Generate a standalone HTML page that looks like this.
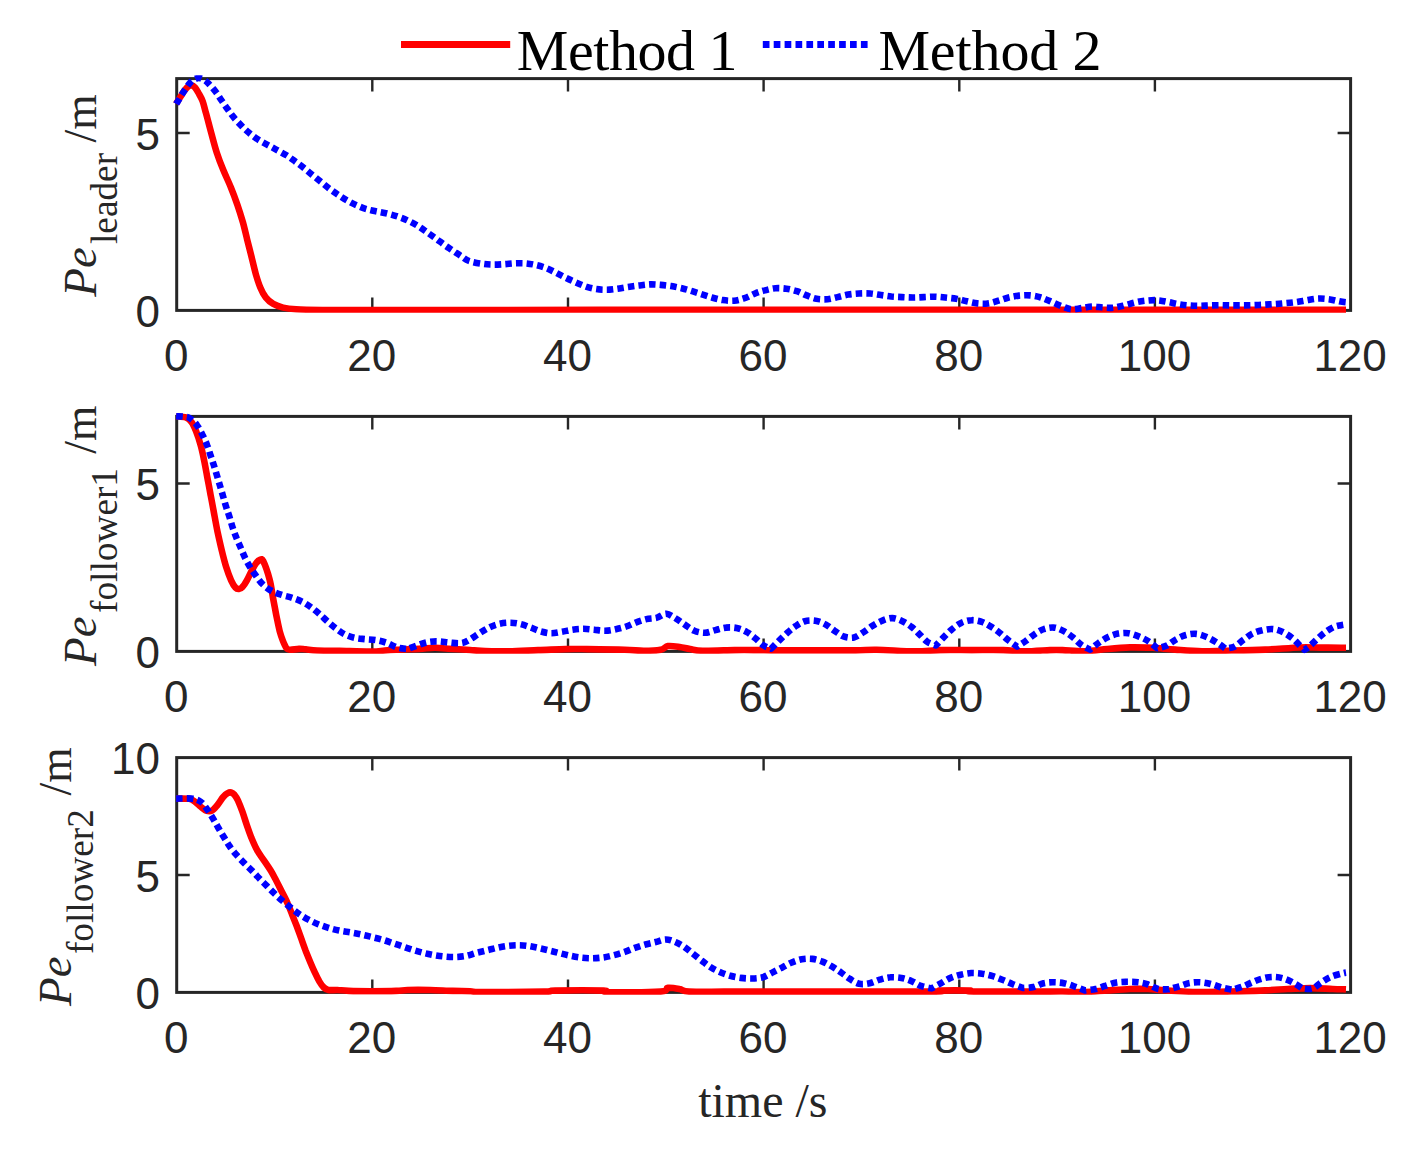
<!DOCTYPE html>
<html><head><meta charset="utf-8"><title>Position error comparison</title>
<style>
html,body{margin:0;padding:0;background:#fff;}
svg{display:block;}
.sans{font-family:"Liberation Sans",sans-serif;font-size:44px;fill:#262626;}
.serif{font-family:"Liberation Serif",serif;fill:#262626;}
</style></head>
<body>
<svg width="1421" height="1149" viewBox="0 0 1421 1149">
<rect width="1421" height="1149" fill="#fff"/>
<defs>
<clipPath id="c0"><rect x="172.7" y="75.2" width="1181.9" height="237.6"/></clipPath>
<clipPath id="c1"><rect x="172.7" y="413.0" width="1181.9" height="240.8"/></clipPath>
<clipPath id="c2"><rect x="172.7" y="754.2" width="1181.9" height="240.6"/></clipPath>
</defs>
<!-- subplot 1 -->
<g>
<rect x="176.7" y="78.6" width="1173.9" height="231.8" fill="none" stroke="#262626" stroke-width="3.0"/>
<path d="M372.3 310.4 v-13.0 M372.3 78.6 v13.0 M568.0 310.4 v-13.0 M568.0 78.6 v13.0 M763.6 310.4 v-13.0 M763.6 78.6 v13.0 M959.3 310.4 v-13.0 M959.3 78.6 v13.0 M1154.9 310.4 v-13.0 M1154.9 78.6 v13.0 M176.7 133.0 h13.0 M1350.6 133.0 h-13.0" stroke="#262626" stroke-width="2.4" fill="none"/>
<text class="sans" x="176.2" y="371.4" text-anchor="middle">0</text>
<text class="sans" x="371.8" y="371.4" text-anchor="middle">20</text>
<text class="sans" x="567.5" y="371.4" text-anchor="middle">40</text>
<text class="sans" x="763.1" y="371.4" text-anchor="middle">60</text>
<text class="sans" x="958.8" y="371.4" text-anchor="middle">80</text>
<text class="sans" x="1154.4" y="371.4" text-anchor="middle">100</text>
<text class="sans" x="1350.1" y="371.4" text-anchor="middle">120</text>
<text class="sans" x="160" y="327.2" text-anchor="end">0</text>
<text class="sans" x="160" y="149.8" text-anchor="end">5</text>
<g clip-path="url(#c0)" fill="none" stroke-linejoin="round">
<path d="M176.1 103.9C176.8 102.7 179.1 99.0 180.5 96.8C181.9 94.6 183.2 92.3 184.5 90.6C185.8 88.9 186.8 87.5 188.0 86.6C189.2 85.7 190.3 85.0 191.5 85.2C192.7 85.4 193.8 86.2 195.0 87.5C196.2 88.8 197.2 90.7 198.5 93.0C199.8 95.3 201.4 97.8 202.6 101.1C203.8 104.4 204.4 107.6 205.9 112.9C207.4 118.2 209.5 126.5 211.3 133.1C213.1 139.7 214.8 146.5 216.8 152.7C218.8 158.8 220.9 164.3 223.3 170.1C225.7 175.9 228.6 181.7 230.9 187.5C233.3 193.3 235.4 199.1 237.4 204.9C239.4 210.7 241.2 216.5 242.9 222.3C244.5 228.1 245.8 233.9 247.2 239.7C248.7 245.5 250.1 251.3 251.6 257.1C253.0 262.9 254.5 269.4 255.9 274.5C257.4 279.6 258.7 283.7 260.3 287.5C261.9 291.4 263.5 294.6 265.7 297.3C267.9 300.1 270.4 302.2 273.3 303.9C276.2 305.6 279.3 306.7 283.1 307.6C286.9 308.5 289.7 308.9 296.2 309.3C302.7 309.7 307.1 309.8 322.3 310.0C337.5 310.1 362.9 310.0 387.5 310.0C412.2 310.0 434.6 310.0 470.0 310.0C505.4 309.9 545.0 309.8 600.0 309.8C655.0 309.8 733.3 309.9 800.0 309.9C866.7 309.9 933.3 309.8 1000.0 309.8C1066.7 309.8 1142.3 309.8 1200.0 309.8C1257.7 309.8 1321.7 309.8 1346.0 309.8" stroke="#ff0000" stroke-width="6.6"/>
<path d="M176.1 103.9C176.4 103.4 176.8 103.1 178.0 101.1C179.2 99.1 181.5 95.0 183.5 92.0C185.5 89.0 188.0 85.2 189.8 83.1C191.6 81.0 192.9 80.1 194.5 79.3C196.1 78.5 197.6 77.9 199.2 78.0C200.8 78.1 202.4 78.9 204.0 79.8C205.6 80.7 206.6 81.5 208.5 83.5C210.4 85.5 213.3 88.7 215.5 91.5C217.7 94.3 219.6 97.6 221.6 100.5C223.6 103.4 225.6 106.3 227.7 109.2C229.7 112.1 231.8 115.0 234.2 117.9C236.5 120.7 239.3 123.6 241.8 126.1C244.3 128.7 246.7 130.8 249.4 133.1C252.1 135.3 255.0 137.6 258.1 139.6C261.2 141.6 264.8 143.4 267.9 145.1C271.0 146.8 273.5 148.1 276.6 149.8C279.7 151.5 283.3 153.4 286.4 155.3C289.5 157.2 292.2 159.3 295.1 161.4C298.0 163.5 300.9 165.6 303.8 167.9C306.7 170.2 309.6 172.7 312.5 175.1C315.4 177.4 318.3 179.7 321.2 182.0C324.1 184.4 327.0 186.8 329.9 189.0C332.8 191.2 335.7 193.2 338.6 195.1C341.5 197.0 344.2 198.8 347.3 200.5C350.4 202.3 353.8 204.1 357.1 205.5C360.4 207.0 363.6 208.3 366.9 209.2C370.1 210.2 373.2 210.7 376.7 211.4C380.1 212.1 383.9 212.7 387.5 213.6C391.2 214.5 395.0 215.6 398.4 216.8C401.9 218.0 405.0 219.2 408.2 220.8C411.5 222.3 414.9 224.1 418.0 226.0C421.1 227.9 423.8 230.0 426.7 232.1C429.6 234.1 432.5 236.1 435.4 238.2C438.3 240.3 441.2 242.6 444.1 244.7C447.0 246.8 449.9 248.6 452.8 250.6C455.7 252.5 458.8 254.7 461.5 256.4C464.2 258.2 465.7 259.8 469.1 261.0C472.6 262.2 478.2 263.2 482.2 263.8C486.1 264.4 489.1 264.5 492.7 264.6C496.3 264.7 500.1 264.4 503.7 264.2C507.3 264.0 510.8 263.5 514.5 263.3C518.1 263.2 521.9 263.1 525.4 263.3C529.0 263.6 532.5 264.2 536.0 265.0C539.5 265.8 543.2 266.9 546.6 268.2C549.9 269.5 552.9 271.3 556.1 272.8C559.2 274.4 562.3 276.1 565.6 277.7C568.8 279.3 572.3 280.9 575.7 282.3C579.1 283.8 582.6 285.4 586.0 286.6C589.5 287.7 592.7 288.6 596.2 289.1C599.6 289.6 603.2 289.8 606.7 289.7C610.2 289.7 613.8 289.1 617.3 288.7C620.8 288.2 624.2 287.5 627.8 287.0C631.5 286.5 635.3 285.9 639.0 285.5C642.7 285.1 646.4 284.6 650.0 284.4C653.6 284.3 657.0 284.6 660.6 284.9C664.1 285.2 667.6 285.6 671.1 286.1C674.6 286.7 678.2 287.4 681.7 288.2C685.2 289.1 688.7 290.1 692.2 291.2C695.7 292.3 699.4 293.5 702.8 294.6C706.2 295.7 709.4 296.8 712.7 297.7C716.1 298.7 719.3 299.6 722.8 300.1C726.4 300.6 730.4 301.0 734.0 300.7C737.7 300.4 741.1 299.4 744.6 298.2C748.1 297.0 751.8 294.8 755.1 293.5C758.5 292.2 761.4 291.2 764.8 290.4C768.1 289.5 771.7 288.5 775.3 288.2C778.9 288.0 782.7 288.2 786.3 288.7C789.9 289.2 793.5 290.1 796.9 291.2C800.2 292.3 803.3 294.2 806.6 295.4C809.9 296.7 813.0 298.2 816.5 298.8C820.0 299.4 824.0 299.5 827.5 299.2C831.0 298.9 834.2 297.9 837.6 297.1C841.1 296.3 844.6 295.2 848.2 294.6C851.8 294.0 855.5 293.7 859.1 293.5C862.8 293.3 866.7 293.3 870.3 293.5C874.0 293.8 877.4 294.5 880.9 295.0C884.4 295.5 887.9 296.1 891.4 296.5C895.0 296.8 898.4 296.9 902.0 297.1C905.6 297.3 909.4 297.5 913.0 297.5C916.6 297.5 920.1 297.3 923.8 297.1C927.4 297.0 931.1 296.6 934.7 296.7C938.3 296.8 941.7 297.2 945.3 297.5C948.9 297.9 952.7 298.2 956.3 298.8C959.9 299.4 963.3 300.6 966.8 301.3C970.3 302.1 973.8 303.1 977.4 303.4C980.9 303.8 984.6 303.9 988.1 303.4C991.7 303.0 995.1 301.7 998.5 300.7C1001.9 299.7 1005.2 298.4 1008.6 297.5C1012.1 296.7 1015.6 296.0 1019.2 295.6C1022.8 295.3 1026.5 295.1 1030.2 295.4C1033.8 295.7 1037.7 296.6 1040.9 297.5C1044.1 298.5 1046.1 299.5 1049.4 300.9C1052.7 302.3 1057.1 304.5 1060.7 305.8C1064.3 307.2 1067.6 308.8 1071.1 309.2C1074.6 309.6 1078.1 308.5 1081.7 308.1C1085.2 307.6 1088.6 306.6 1092.2 306.5C1095.9 306.4 1099.9 307.5 1103.5 307.6C1107.1 307.8 1110.4 308.0 1113.9 307.6C1117.4 307.3 1120.9 306.3 1124.4 305.4C1128.0 304.5 1131.5 303.3 1135.0 302.5C1138.6 301.7 1142.2 301.0 1145.8 300.7C1149.4 300.3 1153.1 300.0 1156.7 300.2C1160.2 300.4 1163.7 301.1 1167.2 301.8C1170.8 302.4 1174.3 303.4 1177.8 304.0C1181.3 304.6 1184.6 305.1 1188.2 305.4C1191.7 305.7 1195.6 305.8 1199.2 305.8C1202.9 305.8 1206.4 305.5 1210.0 305.4C1213.6 305.3 1217.3 305.2 1220.8 305.2C1224.4 305.2 1227.9 305.4 1231.4 305.4C1234.9 305.4 1238.4 305.4 1242.0 305.4C1245.6 305.4 1249.1 305.3 1252.8 305.2C1256.5 305.1 1260.4 304.9 1264.1 304.7C1267.7 304.5 1271.1 304.3 1274.7 304.0C1278.2 303.8 1281.9 303.5 1285.5 303.1C1289.1 302.8 1292.7 302.5 1296.3 302.0C1299.8 301.5 1303.3 300.8 1306.9 300.2C1310.4 299.6 1313.9 298.8 1317.4 298.6C1321.0 298.4 1324.6 298.6 1328.2 299.1C1331.9 299.5 1336.1 300.8 1339.1 301.3C1342.0 301.9 1344.8 302.2 1346.0 302.3" stroke="#0000ff" stroke-width="6.6" stroke-dasharray="6.5 4.15"/>
</g>
<g transform="rotate(-90)" class="serif">
<text x="-296.8" y="95.7" font-size="47" font-style="italic">Pe</text>
<text x="-244.0" y="117.3" font-size="37.3">leader</text>
<text x="-142.5" y="95.7" font-size="45.5">/m</text>
</g>
</g>
<!-- subplot 2 -->
<g>
<rect x="176.7" y="416.4" width="1173.9" height="235.0" fill="none" stroke="#262626" stroke-width="3.0"/>
<path d="M372.3 651.4 v-13.0 M372.3 416.4 v13.0 M568.0 651.4 v-13.0 M568.0 416.4 v13.0 M763.6 651.4 v-13.0 M763.6 416.4 v13.0 M959.3 651.4 v-13.0 M959.3 416.4 v13.0 M1154.9 651.4 v-13.0 M1154.9 416.4 v13.0 M176.7 483.5 h13.0 M1350.6 483.5 h-13.0" stroke="#262626" stroke-width="2.4" fill="none"/>
<text class="sans" x="176.2" y="712.4" text-anchor="middle">0</text>
<text class="sans" x="371.8" y="712.4" text-anchor="middle">20</text>
<text class="sans" x="567.5" y="712.4" text-anchor="middle">40</text>
<text class="sans" x="763.1" y="712.4" text-anchor="middle">60</text>
<text class="sans" x="958.8" y="712.4" text-anchor="middle">80</text>
<text class="sans" x="1154.4" y="712.4" text-anchor="middle">100</text>
<text class="sans" x="1350.1" y="712.4" text-anchor="middle">120</text>
<text class="sans" x="160" y="668.2" text-anchor="end">0</text>
<text class="sans" x="160" y="500.3" text-anchor="end">5</text>
<g clip-path="url(#c1)" fill="none" stroke-linejoin="round">
<path d="M176.1 416.3C177.7 416.5 183.3 416.5 185.8 417.4C188.4 418.4 189.8 419.7 191.5 422.0C193.2 424.2 194.5 427.2 196.0 431.0C197.5 434.8 199.2 439.9 200.5 444.6C201.9 449.3 202.8 453.8 203.9 459.3C205.1 464.8 206.2 471.4 207.3 477.4C208.5 483.4 209.6 489.5 210.7 495.5C211.9 501.5 213.0 507.6 214.1 513.6C215.2 519.6 216.3 525.7 217.5 531.7C218.8 537.7 220.2 544.0 221.6 549.8C223.0 555.6 224.5 561.7 226.1 566.8C227.7 571.9 229.5 576.8 231.1 580.3C232.7 583.8 234.3 586.4 235.6 587.8C236.9 589.2 237.9 589.0 239.0 588.9C240.1 588.8 241.1 588.6 242.4 587.1C243.7 585.7 245.4 583.0 246.9 580.3C248.4 577.7 249.9 574.1 251.4 571.3C253.0 568.5 254.6 565.3 256.0 563.4C257.4 561.5 258.6 560.4 259.8 560.0C261.0 559.6 261.6 557.9 263.2 561.1C264.8 564.3 267.9 573.2 269.5 579.2C271.2 585.2 271.8 591.3 272.9 597.3C274.1 603.3 275.2 609.8 276.3 615.4C277.5 621.1 278.6 626.9 279.7 631.2C280.9 635.6 282.0 638.6 283.1 641.4C284.3 644.3 285.4 646.8 286.5 648.2C287.6 649.6 287.8 649.7 289.9 649.8C292.0 649.9 296.3 649.0 299.0 648.9C301.6 648.8 302.7 649.1 305.7 649.3C308.8 649.6 311.4 650.2 317.1 650.5C322.7 650.7 330.6 650.7 339.7 650.9C348.7 651.1 363.8 651.7 371.4 651.6C378.9 651.5 380.8 650.8 384.9 650.5C389.1 650.2 390.6 650.1 396.2 649.8C401.9 649.5 412.5 649.2 418.9 648.9C425.3 648.6 429.8 647.8 434.7 647.8C439.6 647.7 442.4 648.3 448.3 648.7C454.2 649.0 464.5 649.7 470.0 650.0C475.5 650.4 474.7 650.5 481.1 650.8C487.5 651.0 499.1 651.5 508.6 651.4C518.1 651.3 528.6 650.5 538.1 650.1C547.6 649.8 557.5 649.3 565.6 649.1C573.7 648.9 576.8 649.0 586.7 649.1C596.5 649.2 615.2 649.4 624.7 649.7C634.2 650.0 637.7 650.8 643.7 650.8C649.7 650.8 656.5 650.5 660.6 649.7C664.6 649.0 664.8 646.6 668.0 646.1C671.1 645.7 675.9 646.5 679.6 647.0C683.3 647.5 686.2 648.5 690.1 649.1C694.0 649.7 695.4 650.6 702.8 650.8C710.2 651.0 724.9 650.3 734.5 650.1C744.0 650.0 753.9 650.1 760.0 650.1C766.1 650.2 762.2 650.3 771.1 650.4C780.0 650.4 799.3 650.4 813.3 650.4C827.4 650.4 845.0 650.5 855.6 650.4C866.1 650.3 866.8 649.5 876.7 649.7C886.5 649.9 904.1 651.3 914.7 651.4C925.2 651.5 930.5 650.4 940.0 650.1C949.5 649.9 961.1 650.1 971.7 650.1C982.2 650.1 994.5 649.9 1003.3 650.1C1012.1 650.4 1016.7 651.4 1024.5 651.4C1032.2 651.4 1043.7 650.4 1050.0 650.1C1056.3 649.9 1056.7 649.9 1062.5 650.1C1068.4 650.3 1077.5 651.4 1085.0 651.2C1092.5 651.0 1100.1 649.6 1107.6 649.0C1115.1 648.3 1122.6 647.6 1130.1 647.4C1137.6 647.2 1145.1 647.5 1152.6 647.8C1160.1 648.2 1166.9 649.1 1175.1 649.6C1183.4 650.2 1192.8 651.1 1202.1 651.2C1211.5 651.4 1220.9 650.8 1231.4 650.5C1241.9 650.3 1253.8 650.1 1265.2 649.6C1276.6 649.1 1290.9 647.8 1300.0 647.5C1309.1 647.2 1313.2 647.6 1320.0 647.6C1326.8 647.6 1336.7 647.7 1341.0 647.7C1345.3 647.7 1345.2 647.7 1346.0 647.7" stroke="#ff0000" stroke-width="6.6"/>
<path d="M176.1 416.3C177.5 416.4 182.3 416.4 184.7 416.8C187.1 417.1 188.3 417.1 190.4 418.6C192.4 420.0 195.1 422.5 197.1 425.4C199.2 428.2 201.1 432.1 202.8 435.5C204.5 438.9 206.0 442.3 207.3 445.7C208.7 449.1 209.6 452.5 210.7 455.9C211.9 459.3 212.5 461.0 214.1 466.1C215.7 471.2 218.2 479.7 220.2 486.4C222.2 493.2 224.6 501.7 226.1 506.8C227.7 511.9 228.4 513.4 229.5 517.0C230.6 520.6 231.7 524.7 232.9 528.3C234.1 531.9 235.4 535.2 236.7 538.5C238.1 541.8 239.4 544.7 240.8 548.0C242.2 551.3 243.8 555.2 245.3 558.4C246.9 561.6 248.5 564.5 250.3 567.4C252.1 570.3 253.9 573.0 256.0 575.8C258.0 578.6 260.1 581.9 262.8 584.4C265.4 586.9 268.6 589.2 271.8 591.0C275.0 592.7 278.6 593.9 282.0 595.0C285.4 596.2 288.8 596.6 292.2 597.8C295.6 598.9 299.1 600.2 302.4 601.8C305.6 603.5 308.5 605.4 311.4 607.5C314.3 609.6 316.9 611.8 319.8 614.3C322.6 616.7 325.5 619.7 328.4 622.2C331.2 624.6 333.9 626.9 336.7 629.0C339.6 631.1 342.2 633.1 345.3 634.6C348.5 636.1 352.1 637.3 355.5 638.0C358.9 638.8 362.1 638.8 365.7 639.2C369.3 639.5 373.4 639.7 377.0 640.3C380.6 640.9 383.8 641.8 387.2 643.0C390.6 644.2 394.0 646.6 397.4 647.5C400.8 648.5 405.0 648.6 407.6 648.9C410.1 648.0 414.3 646.4 417.7 645.3C421.1 644.1 424.5 642.7 427.9 642.1C431.3 641.5 434.5 641.3 438.1 641.4C441.7 641.5 445.6 642.3 449.4 642.6C453.2 642.9 457.5 643.6 460.7 643.2C463.9 642.9 465.5 642.0 468.6 640.3C471.8 638.6 476.0 635.4 479.4 633.3C482.8 631.1 485.7 629.1 488.9 627.6C492.1 626.0 495.2 624.8 498.6 624.0C502.1 623.2 506.0 622.7 509.6 622.7C513.2 622.7 516.7 623.2 520.2 624.0C523.7 624.8 527.3 626.3 530.7 627.6C534.1 628.8 537.2 630.4 540.6 631.4C544.1 632.3 547.7 633.2 551.2 633.3C554.7 633.3 558.2 632.4 561.8 631.8C565.3 631.2 568.9 630.2 572.5 629.7C576.2 629.2 579.9 628.8 583.5 628.8C587.1 628.8 590.5 629.4 594.1 629.7C597.6 630.0 601.4 630.8 605.0 630.7C608.7 630.7 612.3 630.0 615.8 629.2C619.3 628.5 622.7 627.7 626.2 626.5C629.6 625.3 632.9 623.5 636.3 622.3C639.7 621.0 643.0 619.9 646.4 619.1C649.9 618.3 653.7 618.5 657.0 617.6C660.3 616.8 663.1 613.7 666.3 613.8C669.4 614.0 672.6 616.6 675.8 618.5C678.9 620.3 682.2 623.0 685.3 625.0C688.4 627.1 691.1 629.4 694.3 630.7C697.6 632.0 701.4 632.9 704.9 632.8C708.4 632.7 711.9 631.0 715.5 630.1C719.0 629.2 722.5 627.9 726.0 627.6C729.5 627.2 733.2 627.3 736.6 628.0C740.0 628.7 743.3 630.0 746.5 631.8C749.7 633.5 752.7 636.2 755.6 638.5C758.4 640.8 761.1 643.8 763.7 645.5C766.3 647.2 769.3 647.9 771.1 648.7C773.1 646.7 776.4 643.3 779.1 640.6C781.8 638.0 784.6 635.3 787.4 632.8C790.1 630.4 792.9 628.0 795.8 626.1C798.7 624.1 801.6 622.1 804.9 621.2C808.2 620.3 812.0 620.3 815.4 620.8C818.9 621.3 822.2 622.7 825.4 624.4C828.5 626.0 831.4 628.7 834.4 630.7C837.5 632.7 840.3 635.3 843.5 636.4C846.8 637.6 850.6 638.2 853.9 637.5C857.2 636.8 860.3 634.1 863.4 632.2C866.5 630.3 869.3 627.8 872.4 625.9C875.6 623.9 879.0 621.9 882.4 620.6C885.7 619.3 889.2 618.0 892.5 618.1C895.8 618.2 899.3 619.7 902.4 621.2C905.6 622.7 908.7 624.7 911.5 626.9C914.4 629.1 916.9 631.8 919.5 634.3C922.2 636.8 924.6 640.0 927.3 641.9C930.0 643.8 933.7 644.6 935.8 645.5C937.8 643.4 941.1 639.8 943.8 637.1C946.6 634.3 949.4 631.4 952.3 629.0C955.1 626.7 957.9 624.4 961.1 622.9C964.4 621.4 968.2 620.3 971.7 620.2C975.1 620.0 978.5 620.7 981.8 621.9C985.1 623.0 988.2 625.0 991.3 626.9C994.4 628.8 997.4 631.0 1000.2 633.3C1003.0 635.5 1005.4 638.0 1008.2 640.2C1011.0 642.4 1014.8 645.0 1017.1 646.6C1019.3 645.1 1022.9 643.0 1025.9 640.9C1028.9 638.7 1032.0 635.9 1035.0 633.9C1038.0 631.9 1040.9 630.1 1044.1 629.0C1047.3 628.0 1050.8 627.2 1054.2 627.6C1057.6 627.9 1061.1 629.7 1064.3 631.4C1067.5 633.1 1070.4 635.4 1073.3 637.7C1076.2 640.0 1078.9 643.1 1081.7 645.1C1084.4 647.1 1087.9 648.5 1090.0 649.6C1092.2 647.9 1096.0 644.7 1099.0 642.6C1102.0 640.5 1105.0 638.5 1108.2 637.0C1111.4 635.5 1114.8 634.3 1118.1 633.6C1121.5 633.0 1125.0 632.7 1128.5 633.2C1132.0 633.7 1135.7 635.2 1139.1 636.6C1142.5 638.0 1145.8 639.6 1148.8 641.5C1151.8 643.5 1155.0 646.6 1157.1 648.3C1159.5 647.6 1163.6 647.1 1166.8 645.6C1170.0 644.1 1173.1 641.0 1176.2 639.3C1179.4 637.5 1182.5 635.9 1185.9 635.0C1189.3 634.1 1193.1 633.5 1196.5 633.9C1200.0 634.2 1203.3 635.6 1206.6 637.0C1209.9 638.4 1213.2 640.3 1216.3 642.2C1219.4 644.1 1223.1 646.9 1225.3 648.5C1227.6 648.1 1231.3 648.1 1234.3 646.7C1237.3 645.3 1240.3 642.1 1243.3 639.9C1246.4 637.8 1249.2 635.3 1252.4 633.6C1255.5 632.0 1258.8 631.0 1262.3 630.3C1265.7 629.5 1269.7 628.8 1273.1 629.1C1276.5 629.4 1279.6 630.6 1282.8 632.1C1286.0 633.6 1289.5 636.0 1292.4 638.3C1295.3 640.5 1298.0 643.7 1300.0 645.6C1302.0 647.5 1303.4 648.8 1304.5 649.8C1305.7 649.0 1307.2 648.2 1309.3 646.5C1311.4 644.8 1314.3 641.8 1316.9 639.4C1319.5 637.0 1322.2 634.5 1325.0 632.4C1327.8 630.3 1331.3 628.1 1334.0 626.9C1336.7 625.7 1339.0 625.6 1341.0 625.2C1343.0 624.8 1345.2 624.5 1346.0 624.4" stroke="#0000ff" stroke-width="6.6" stroke-dasharray="6.5 4.15"/>
</g>
<g transform="rotate(-90)" class="serif">
<text x="-666.0" y="95.7" font-size="47" font-style="italic">Pe</text>
<text x="-613.0" y="117.3" font-size="37.3">follower1</text>
<text x="-453.7" y="95.7" font-size="45.5">/m</text>
</g>
</g>
<!-- subplot 3 -->
<g>
<rect x="176.7" y="757.6" width="1173.9" height="234.8" fill="none" stroke="#262626" stroke-width="3.0"/>
<path d="M372.3 992.4 v-13.0 M372.3 757.6 v13.0 M568.0 992.4 v-13.0 M568.0 757.6 v13.0 M763.6 992.4 v-13.0 M763.6 757.6 v13.0 M959.3 992.4 v-13.0 M959.3 757.6 v13.0 M1154.9 992.4 v-13.0 M1154.9 757.6 v13.0 M176.7 875.0 h13.0 M1350.6 875.0 h-13.0" stroke="#262626" stroke-width="2.4" fill="none"/>
<text class="sans" x="176.2" y="1053.4" text-anchor="middle">0</text>
<text class="sans" x="371.8" y="1053.4" text-anchor="middle">20</text>
<text class="sans" x="567.5" y="1053.4" text-anchor="middle">40</text>
<text class="sans" x="763.1" y="1053.4" text-anchor="middle">60</text>
<text class="sans" x="958.8" y="1053.4" text-anchor="middle">80</text>
<text class="sans" x="1154.4" y="1053.4" text-anchor="middle">100</text>
<text class="sans" x="1350.1" y="1053.4" text-anchor="middle">120</text>
<text class="sans" x="160" y="1009.2" text-anchor="end">0</text>
<text class="sans" x="160" y="891.8" text-anchor="end">5</text>
<text class="sans" x="160" y="774.4" text-anchor="end">10</text>
<g clip-path="url(#c2)" fill="none" stroke-linejoin="round">
<path d="M176.1 798.6C178.3 798.7 186.1 798.4 189.2 798.8C192.4 799.3 193.0 800.3 194.9 801.6C196.8 802.8 198.7 805.0 200.5 806.5C202.4 808.0 204.3 809.9 206.2 810.6C208.1 811.3 210.0 811.6 211.9 810.6C213.7 809.7 215.6 807.2 217.5 805.0C219.4 802.7 221.5 799.0 223.2 797.0C224.9 795.1 226.4 793.9 227.7 793.2C229.0 792.4 230.0 792.2 231.1 792.5C232.2 792.8 233.3 793.5 234.5 794.8C235.6 796.1 236.6 797.6 237.9 800.4C239.2 803.3 240.9 807.6 242.4 811.7C243.9 815.9 245.4 821.0 246.9 825.3C248.4 829.7 249.8 833.6 251.4 837.8C253.1 841.9 255.0 846.4 257.1 850.2C259.2 854.0 261.6 857.0 263.9 860.4C266.2 863.8 268.6 867.2 270.7 870.6C272.8 874.0 274.4 877.2 276.3 880.7C278.2 884.3 280.1 888.3 282.0 892.1C283.9 895.8 286.0 899.6 287.6 903.4C289.3 907.1 290.7 910.9 292.2 914.7C293.7 918.5 295.2 922.0 296.7 926.0C298.2 930.0 299.7 934.3 301.2 938.4C302.7 942.6 304.2 946.9 305.7 950.9C307.3 954.8 308.8 958.6 310.3 962.2C311.8 965.8 313.3 969.2 314.8 972.4C316.3 975.6 317.8 978.9 319.3 981.4C320.8 984.0 322.3 986.1 323.8 987.5C325.4 989.0 326.1 989.6 328.4 990.0C330.6 990.4 334.0 989.9 337.4 990.0C340.8 990.2 343.1 990.7 348.7 990.9C354.4 991.1 363.4 991.2 371.4 991.2C379.3 991.2 390.2 991.1 396.2 990.9C402.3 990.7 401.9 990.2 407.6 990.0C413.2 989.9 422.6 989.9 430.2 990.0C437.7 990.2 446.2 990.7 452.8 990.9C459.4 991.1 465.3 991.0 470.0 991.2C474.7 991.3 468.7 992.0 481.1 992.0C493.5 992.1 532.1 991.9 544.4 991.6C556.8 991.4 545.2 990.7 555.0 990.6C564.9 990.4 594.8 990.3 603.6 990.6C612.4 990.8 598.3 991.9 607.8 992.0C617.3 992.2 650.5 992.3 660.6 991.6C670.6 990.9 664.8 988.2 668.0 987.8C671.1 987.4 676.0 988.4 679.6 989.1C683.1 989.7 681.7 991.2 689.1 991.6C696.5 992.0 712.1 991.6 723.9 991.6C735.7 991.6 748.6 991.6 760.0 991.6C771.4 991.6 776.3 991.6 792.2 991.6C808.2 991.6 831.6 991.6 855.6 991.6C879.5 991.6 921.7 991.8 935.8 991.6C949.9 991.4 934.4 990.7 940.0 990.6C945.6 990.4 963.9 990.4 969.6 990.6C975.2 990.7 960.4 991.4 973.8 991.6C987.2 991.8 1035.2 991.6 1050.0 991.6C1064.8 991.6 1056.7 991.5 1062.5 991.5C1068.4 991.6 1077.5 992.2 1085.0 992.0C1092.5 991.8 1100.1 990.9 1107.6 990.4C1115.1 989.9 1123.3 989.3 1130.1 989.0C1136.8 988.8 1142.1 988.8 1148.1 989.0C1154.1 989.3 1157.9 989.9 1166.1 990.4C1174.4 990.9 1186.8 991.8 1197.6 992.0C1208.5 992.2 1220.2 991.8 1231.4 991.5C1242.7 991.3 1255.8 990.8 1265.2 990.4C1274.6 990.0 1280.2 989.4 1287.7 989.0C1295.2 988.7 1302.7 988.1 1310.2 988.1C1317.7 988.1 1326.8 988.8 1332.8 989.0C1338.7 989.3 1343.8 989.3 1346.0 989.4" stroke="#ff0000" stroke-width="6.6"/>
<path d="M176.1 798.6C178.7 798.6 187.4 798.1 191.5 798.6C195.6 799.1 197.9 799.8 200.5 801.6C203.2 803.4 205.3 806.7 207.3 809.5C209.4 812.3 211.1 815.4 213.0 818.5C214.9 821.7 216.8 825.1 218.6 828.3C220.5 831.5 222.4 834.7 224.3 837.8C226.2 840.9 227.9 843.9 230.0 846.8C232.0 849.7 234.4 852.5 236.7 855.2C239.1 857.9 241.7 860.5 244.2 863.1C246.7 865.7 249.4 868.0 251.9 870.6C254.4 873.1 256.8 875.8 259.4 878.5C261.9 881.1 264.7 883.8 267.3 886.4C269.8 889.0 272.2 891.4 274.8 893.9C277.3 896.3 280.0 898.8 282.7 901.1C285.4 903.4 288.3 905.7 291.0 907.9C293.8 910.1 296.5 912.3 299.4 914.2C302.3 916.2 305.3 918.0 308.5 919.7C311.6 921.3 314.9 922.8 318.2 924.2C321.5 925.5 324.9 926.7 328.4 927.8C331.8 928.9 335.4 929.8 339.0 930.5C342.6 931.3 346.2 931.7 349.9 932.3C353.5 933.0 357.1 933.6 360.7 934.4C364.3 935.1 367.8 936.0 371.4 936.9C374.9 937.7 378.5 938.6 382.0 939.6C385.5 940.6 388.8 941.8 392.2 943.0C395.6 944.1 399.0 945.2 402.4 946.4C405.7 947.5 409.1 948.7 412.5 949.8C416.0 950.8 419.4 951.8 422.9 952.7C426.4 953.6 430.0 954.3 433.6 955.0C437.2 955.6 440.8 956.2 444.4 956.5C448.1 956.9 451.9 957.1 455.5 957.0C459.2 956.9 463.0 956.5 466.4 955.9C469.8 955.2 472.5 953.9 475.8 953.0C479.2 952.1 482.8 951.3 486.4 950.4C490.0 949.6 493.8 948.5 497.4 947.7C501.0 946.9 504.3 946.2 507.9 945.8C511.5 945.4 515.5 945.1 519.1 945.2C522.7 945.2 526.2 945.7 529.7 946.2C533.2 946.8 536.7 947.6 540.2 948.3C543.7 949.1 547.3 950.0 550.8 950.9C554.3 951.7 557.8 952.7 561.3 953.6C564.9 954.5 568.4 955.4 571.9 956.1C575.4 956.9 578.9 957.5 582.4 957.8C586.0 958.2 589.5 958.3 593.0 958.3C596.5 958.2 600.0 957.9 603.6 957.4C607.1 956.9 610.6 956.0 614.1 955.1C617.6 954.2 621.2 953.1 624.7 951.9C628.1 950.7 631.4 949.1 634.8 947.9C638.3 946.7 641.8 945.5 645.4 944.5C648.9 943.6 652.5 942.8 655.9 942.0C659.3 941.2 662.6 939.5 665.8 939.5C669.1 939.5 672.2 940.7 675.3 942.0C678.5 943.3 681.9 945.3 684.8 947.3C687.8 949.3 690.4 951.7 693.3 954.0C696.2 956.3 699.2 958.8 702.2 961.0C705.1 963.2 707.8 965.5 710.8 967.3C713.8 969.2 717.1 970.8 720.3 972.2C723.5 973.6 726.8 974.8 730.2 975.8C733.6 976.7 737.2 977.4 740.8 977.9C744.4 978.3 748.3 978.6 752.0 978.5C755.6 978.4 759.3 978.2 762.7 977.3C766.0 976.3 769.0 974.2 772.2 972.6C775.3 971.0 778.5 969.4 781.7 967.8C784.8 966.1 787.8 964.1 791.2 962.7C794.5 961.3 798.2 959.9 801.7 959.3C805.2 958.7 808.8 958.5 812.3 958.9C815.7 959.3 819.1 960.3 822.4 961.6C825.8 962.9 829.2 964.9 832.3 966.7C835.5 968.5 838.3 970.6 841.2 972.6C844.1 974.7 846.8 977.1 849.9 978.9C852.9 980.8 856.1 983.1 859.4 983.8C862.7 984.5 866.3 983.9 869.7 983.2C873.1 982.5 876.4 980.6 879.8 979.6C883.3 978.6 886.8 977.5 890.4 977.3C894.0 977.0 897.9 977.3 901.4 977.9C904.9 978.5 908.2 979.7 911.5 981.1C914.8 982.4 917.7 984.7 921.0 985.9C924.3 987.1 928.9 987.8 931.6 988.4C933.9 987.1 937.9 984.9 941.1 983.2C944.2 981.4 947.3 979.3 950.6 977.9C953.8 976.5 957.2 975.5 960.7 974.7C964.1 973.9 967.7 973.2 971.3 973.0C974.8 972.9 978.6 973.1 982.2 973.7C985.8 974.2 989.3 975.1 992.8 976.2C996.2 977.3 999.6 978.7 1002.9 980.0C1006.3 981.3 1009.5 982.9 1012.8 984.2C1016.2 985.6 1020.4 987.1 1023.0 988.0C1025.6 987.8 1030.1 987.8 1033.5 987.0C1036.9 986.2 1040.0 984.0 1043.5 983.2C1046.9 982.4 1050.6 982.2 1054.2 982.3C1057.7 982.3 1061.2 982.7 1064.8 983.4C1068.3 984.2 1072.0 985.6 1075.4 986.8C1078.7 988.0 1082.6 989.5 1085.0 990.4C1087.7 990.1 1092.2 989.8 1095.6 989.0C1099.1 988.3 1102.3 986.7 1105.8 985.7C1109.2 984.6 1113.0 983.1 1116.6 982.5C1120.1 981.9 1123.6 981.9 1127.1 981.8C1130.7 981.8 1134.5 981.8 1138.0 982.3C1141.4 982.7 1144.7 983.4 1148.1 984.5C1151.5 985.7 1154.8 988.3 1158.2 989.0C1161.7 989.8 1166.2 989.2 1168.8 989.3C1171.4 988.5 1175.7 987.4 1179.2 986.3C1182.7 985.3 1186.2 983.6 1189.8 983.0C1193.3 982.3 1196.8 982.1 1200.3 982.3C1203.9 982.5 1207.7 983.2 1211.1 984.1C1214.6 984.9 1217.8 986.5 1221.3 987.5C1224.7 988.4 1229.2 989.2 1231.9 989.7C1234.5 989.0 1238.8 988.0 1242.2 986.8C1245.6 985.5 1248.8 983.7 1252.1 982.3C1255.5 980.9 1259.0 979.4 1262.5 978.5C1266.0 977.6 1269.5 976.9 1273.1 976.9C1276.6 976.9 1280.2 977.4 1283.7 978.5C1287.1 979.5 1290.6 981.3 1293.8 983.0C1297.0 984.6 1300.5 987.2 1302.8 988.6C1305.2 988.6 1309.4 989.6 1312.5 988.6C1315.6 987.5 1318.4 984.2 1321.5 982.3C1324.6 980.3 1327.6 978.3 1331.0 976.9C1334.3 975.4 1339.3 974.2 1341.8 973.5C1344.3 972.8 1345.3 972.7 1346.0 972.6" stroke="#0000ff" stroke-width="6.6" stroke-dasharray="6.5 4.15"/>
</g>
<g transform="rotate(-90)" class="serif">
<text x="-1005.9" y="71.0" font-size="47" font-style="italic">Pe</text>
<text x="-954.1" y="92.6" font-size="37.3">follower2</text>
<text x="-795.4" y="71.0" font-size="45.5">/m</text>
</g>
</g>
<text class="serif" x="762.8" y="1116.8" font-size="48" text-anchor="middle">time /s</text>
<!-- legend -->
<g>
<path d="M401 44.5H510.2" stroke="#ff0000" stroke-width="7" fill="none"/>
<path d="M762.8 44.5H868" stroke="#0000ff" stroke-width="7" stroke-dasharray="6.7 4.2" fill="none"/>
<text x="516.8" y="70" font-family="Liberation Serif, serif" font-size="58" letter-spacing="-0.45" fill="#000">Method 1</text>
<text x="878.4" y="70" font-family="Liberation Serif, serif" font-size="58" letter-spacing="-0.1" fill="#000">Method 2</text>
</g>
</svg>
</body></html>
